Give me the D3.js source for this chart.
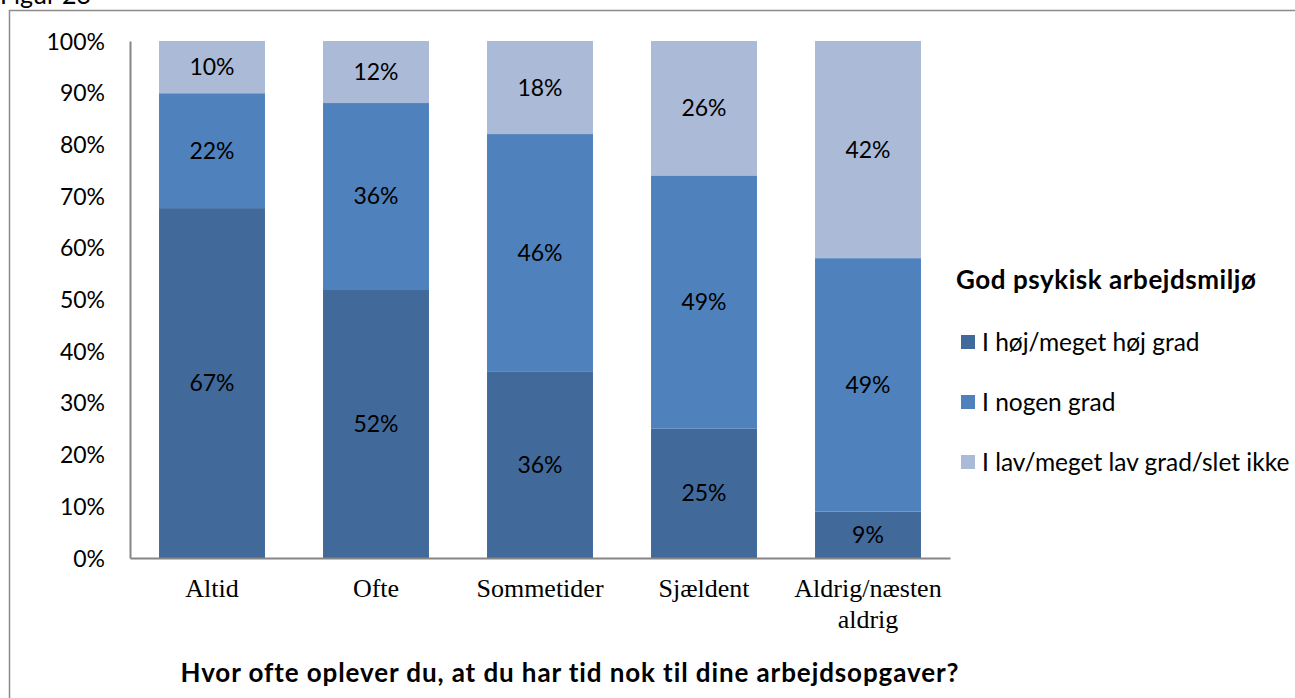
<!DOCTYPE html>
<html>
<head>
<meta charset="utf-8">
<script src="https://cdn.jsdelivr.net/npm/d3@7"></script>
<style>
  html, body { margin: 0; padding: 0; background: #fff; }
  svg { display: block; }
</style>
</head>
<body>
<svg id="chart" width="1295" height="698"></svg>
<script>
// Response categories on the x axis
const categories = ["Altid", "Ofte", "Sommetider", "Sjældent", "Aldrig/næsten aldrig"];
// Series (stacked bottom to top)
const seriesNames = ["I høj/meget høj grad", "I nogen grad", "I lav/meget lav grad/slet ikke"];
const highValues = [67, 52, 36, 25, 9];
const someValues = [22, 36, 46, 49, 49];
const lowValues  = [10, 12, 18, 26, 42];
const yTicks = [0, 10, 20, 30, 40, 50, 60, 70, 80, 90, 100];
const colors = ["#416A9B", "#4F81BD", "#AABAD7"];

const sansFont = "Lato, 'Open Sans', 'Noto Sans', sans-serif";
const serifFont = "'Liberation Serif', 'DejaVu Serif', serif";

const svg = d3.select("#chart");

// Outer frame
svg.append("path")
  .attr("d", "M9.5,698 L9.5,10.5 L1295,10.5")
  .attr("fill", "none").attr("stroke", "#8c8c8c").attr("stroke-width", 1.5);

svg.append("text")
  .attr("x", 0).attr("y", 4)
  .attr("font-family", sansFont).attr("font-size", 25).attr("fill", "#000")
  .text("Figur 23");

const plot = { left: 130, right: 950, top: 41, bottom: 558 };

const x = d3.scaleBand().domain(categories)
  .range([plot.left, plot.right]).paddingInner(0.354).paddingOuter(0.177);
const y = d3.scaleLinear().domain([0, 100]).range([plot.bottom, plot.top]);

// Normalise each category to 100 %
const rows = categories.map((c, i) => {
  const vals = [highValues[i], someValues[i], lowValues[i]];
  return { cat: c, vals, total: d3.sum(vals) };
});
const keys = [0, 1, 2];
const stackData = rows.map(r => {
  const o = { cat: r.cat };
  keys.forEach(k => o[k] = r.vals[k] / r.total * 100);
  return o;
});
const stacked = d3.stack().keys(keys)(stackData);

// Bars
stacked.forEach((layer, k) => {
  svg.append("g").selectAll("rect").data(layer).join("rect")
    .attr("x", d => x(d.data.cat))
    .attr("width", x.bandwidth())
    .attr("y", d => y(d[1]))
    .attr("height", d => y(d[0]) - y(d[1]))
    .attr("fill", colors[k]);
});

// Segment value labels
stacked.forEach((layer, k) => {
  svg.append("g").selectAll("text").data(layer).join("text")
    .attr("x", d => x(d.data.cat) + x.bandwidth() / 2)
    .attr("y", d => y((d[0] + d[1]) / 2))
    .attr("dy", "0.35em")
    .attr("text-anchor", "middle")
    .attr("font-family", sansFont).attr("font-size", 23).attr("fill", "#000")
    .text((d, i) => rows[i].vals[k] + "%");
});

// Y axis
const yAxis = d3.axisLeft(y).tickValues(yTicks).tickFormat(d => d + "%").tickSize(0).tickPadding(25);
const yg = svg.append("g").attr("transform", `translate(${plot.left},0)`).call(yAxis);
yg.select(".domain").attr("stroke", "#868686").attr("stroke-width", 2);
yg.selectAll("text").attr("font-family", sansFont).attr("font-size", 23).attr("fill", "#000").attr("dy", "0.35em");

// X axis baseline
const xAxis = d3.axisBottom(x).tickSize(0).tickFormat("");
const xg = svg.append("g").attr("transform", `translate(0,${plot.bottom})`).call(xAxis);
xg.select(".domain").attr("stroke", "#868686").attr("stroke-width", 2);

// Category labels (wrapped)
const catLines = {
  "Aldrig/næsten aldrig": ["Aldrig/næsten", "aldrig"]
};
categories.forEach(c => {
  const lines = catLines[c] || [c];
  const cx = x(c) + x.bandwidth() / 2;
  const t = svg.append("text")
    .attr("x", cx)
    .attr("y", 597)
    .attr("text-anchor", "middle")
    .attr("font-family", serifFont).attr("font-size", 26).attr("fill", "#000");
  lines.forEach((l, i) => {
    t.append("tspan").attr("x", cx).attr("dy", i === 0 ? 0 : 31).text(l);
  });
});

// X axis title
svg.append("text")
  .attr("x", 570).attr("y", 682)
  .attr("text-anchor", "middle")
  .attr("font-family", sansFont).attr("font-size", 26).attr("font-weight", "bold")
  .attr("letter-spacing", 0.9).attr("fill", "#000")
  .text("Hvor ofte oplever du, at du har tid nok til dine arbejdsopgaver?");

// Legend
const legend = svg.append("g");
legend.append("text")
  .attr("x", 956).attr("y", 289)
  .attr("font-family", sansFont).attr("font-size", 26).attr("font-weight", "bold")
  .attr("letter-spacing", 0.55).attr("fill", "#000")
  .text("God psykisk arbejdsmiljø");
seriesNames.forEach((name, i) => {
  const cy = 342 + i * 60;
  legend.append("rect")
    .attr("x", 961).attr("y", cy - 7).attr("width", 14).attr("height", 14)
    .attr("fill", colors[i]);
  legend.append("text")
    .attr("x", 982).attr("y", cy).attr("dy", "0.35em")
    .attr("font-family", sansFont).attr("font-size", 24.5).attr("fill", "#000")
    .text(name);
});
</script>
</body>
</html>
